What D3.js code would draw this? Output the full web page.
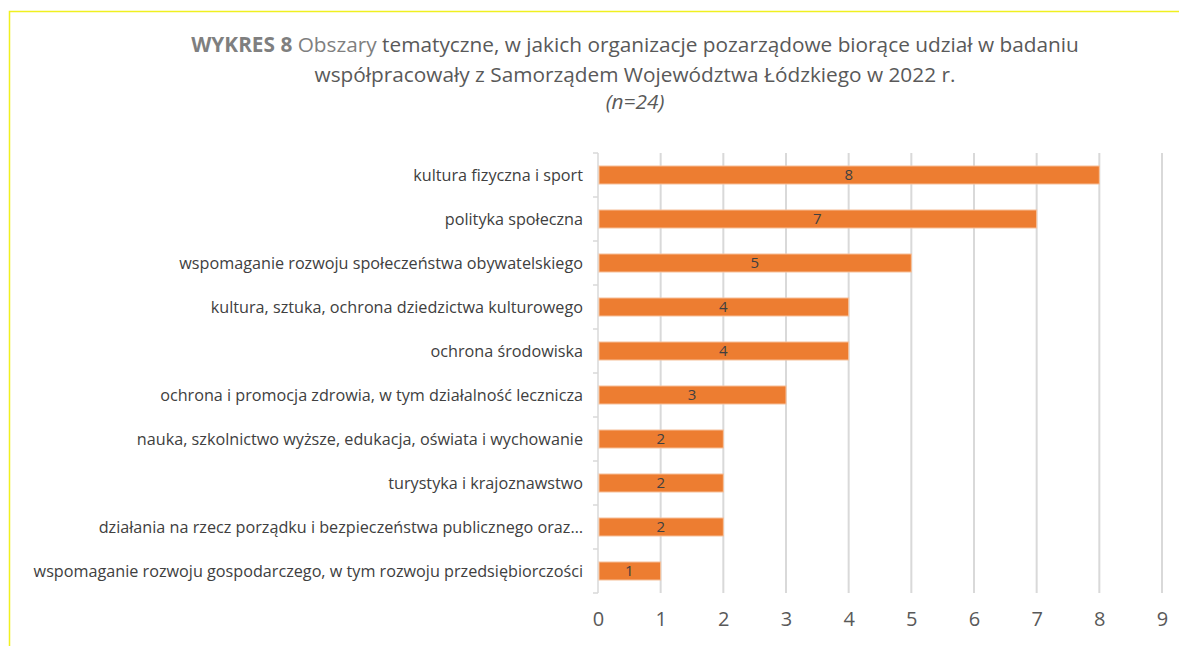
<!DOCTYPE html>
<html>
<head>
<meta charset="utf-8">
<script src="https://cdn.jsdelivr.net/npm/d3@7"></script>
<style>
  body { margin: 0; background: #fff; }
  svg { display: block; font-family: "Open Sans", "Noto Sans", sans-serif; }
</style>
</head>
<body>
<svg></svg>
<script>
const categories = [
  "kultura fizyczna i sport",
  "polityka społeczna",
  "wspomaganie rozwoju społeczeństwa obywatelskiego",
  "kultura, sztuka, ochrona dziedzictwa kulturowego",
  "ochrona środowiska",
  "ochrona i promocja zdrowia, w tym działalność lecznicza",
  "nauka, szkolnictwo wyższe, edukacja, oświata i wychowanie",
  "turystyka i krajoznawstwo",
  "działania na rzecz porządku i bezpieczeństwa publicznego oraz…",
  "wspomaganie rozwoju gospodarczego, w tym rozwoju przedsiębiorczości"
];
const values = [8, 7, 5, 4, 4, 3, 2, 2, 2, 1];
const xTicks = [0, 1, 2, 3, 4, 5, 6, 7, 8, 9];

const svgWidth = 1179;
const svgHeight = 646;
const margin = { top: 153, right: 17, bottom: 53, left: 598 };
const width = svgWidth - margin.left - margin.right;
const height = svgHeight - margin.top - margin.bottom;

const svg = d3.select('svg')
  .attr('width', svgWidth)
  .attr('height', svgHeight);

// yellow frame of the chart area
svg.append('path')
  .attr('d', 'M9.5,' + svgHeight + 'V11.5H' + svgWidth)
  .attr('fill', 'none')
  .attr('stroke', '#f0f020')
  .attr('stroke-width', 1.5);

// title
const title = svg.append('text')
  .attr('text-anchor', 'middle')
  .attr('font-size', 20.8)
  .attr('fill', '#595959');
const t1 = title.append('tspan').attr('x', 635).attr('y', 52);
t1.append('tspan').attr('font-weight', 'bold').attr('fill', '#7f7f7f').text('WYKRES 8');
t1.append('tspan').attr('fill', '#7f7f7f').text(' Obszary');
t1.append('tspan').text(' tematyczne, w jakich organizacje pozarządowe biorące udział w badaniu');
title.append('tspan').attr('x', 635).attr('y', 82)
  .text('współpracowały z Samorządem Województwa Łódzkiego w 2022 r.');
title.append('tspan').attr('x', 635).attr('y', 109)
  .attr('font-style', 'italic')
  .text('(n=24)');

const g = svg.append('g')
  .attr('transform', 'translate(' + margin.left + ',' + margin.top + ')');

const xScale = d3.scaleLinear()
  .domain([0, 9])
  .range([0, width]);

const yScale = d3.scaleBand()
  .domain(categories)
  .range([0, height])
  .paddingInner(0.59)
  .paddingOuter(0.295);

// vertical gridlines
g.append('g')
  .selectAll('line')
  .data(xTicks.slice(1))
  .join('line')
  .attr('x1', (d) => xScale(d))
  .attr('x2', (d) => xScale(d))
  .attr('y1', 0)
  .attr('y2', height)
  .attr('stroke', '#d9d9d9')
  .attr('stroke-width', 2);

// category axis with ticks between bands
const boundaries = d3.range(categories.length + 1).map((i) => i * height / categories.length);
g.append('line')
  .attr('x1', 0).attr('x2', 0)
  .attr('y1', 0).attr('y2', height)
  .attr('stroke', '#d9d9d9')
  .attr('stroke-width', 1.5);
g.append('g')
  .selectAll('line')
  .data(boundaries)
  .join('line')
  .attr('x1', -5).attr('x2', 0)
  .attr('y1', (d) => d).attr('y2', (d) => d)
  .attr('stroke', '#d9d9d9')
  .attr('stroke-width', 1.5);

g.append('g')
  .selectAll('text')
  .data(categories)
  .join('text')
  .attr('x', -15)
  .attr('y', (d) => yScale(d) + yScale.bandwidth() / 2)
  .attr('dy', '0.35em')
  .attr('text-anchor', 'end')
  .attr('font-size', 16.2)
  .attr('fill', '#404040')
  .text((d) => d);

// bars
g.append('g')
  .selectAll('rect')
  .data(values)
  .join('rect')
  .attr('x', xScale(0) + 1)
  .attr('y', (d, i) => yScale(categories[i]))
  .attr('width', (d) => xScale(d) - xScale(0) - 1)
  .attr('height', yScale.bandwidth())
  .attr('fill', '#ed7d31')
  .attr('stroke', '#f6c3a0')
  .attr('stroke-width', 1);

// bar value labels
g.append('g')
  .selectAll('text')
  .data(values)
  .join('text')
  .attr('x', (d) => xScale(d / 2))
  .attr('y', (d, i) => yScale(categories[i]) + yScale.bandwidth() / 2)
  .attr('dy', '0.36em')
  .attr('text-anchor', 'middle')
  .attr('font-size', 15)
  .attr('fill', '#404040')
  .text((d) => d);

// x axis labels
g.append('g')
  .attr('transform', 'translate(0,' + height + ')')
  .call(d3.axisBottom(xScale).tickValues(xTicks).tickSize(0).tickPadding(19).tickFormat(d3.format('d')))
  .call((a) => a.select('.domain').remove())
  .selectAll('text')
  .attr('font-family', '"Open Sans", "Noto Sans", sans-serif')
  .attr('font-size', 20)
  .attr('fill', '#595959');
</script>
</body>
</html>
